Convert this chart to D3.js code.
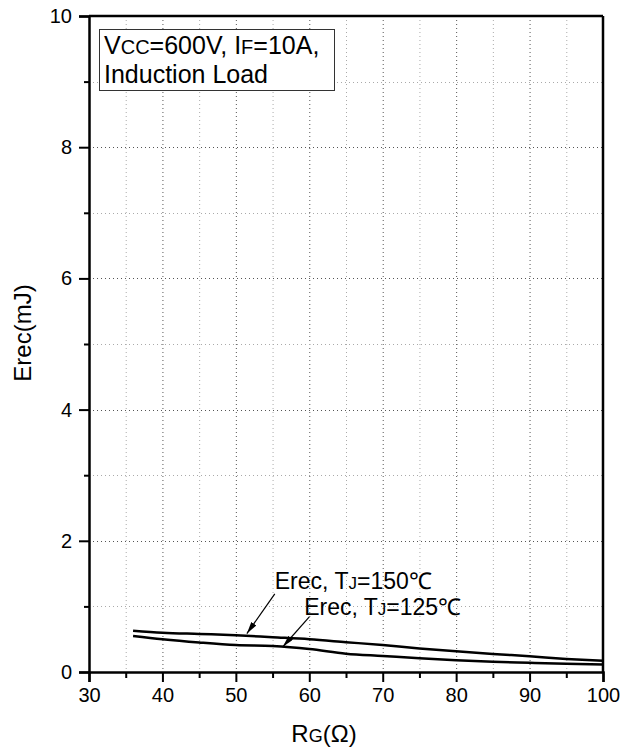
<!DOCTYPE html>
<html>
<head>
<meta charset="utf-8">
<script src="https://cdn.jsdelivr.net/npm/d3@7"></script>
<style>
  body { margin: 0; background: #fff; }
  text { font-family: "Liberation Sans", Arial, sans-serif; fill: #000; }
</style>
</head>
<body>
<script>
// Erec vs RG
const rg = [36, 40, 45, 50, 55, 60, 65, 70, 75, 80, 85, 90, 95, 100];
const erec150 = [0.63, 0.60, 0.58, 0.56, 0.53, 0.50, 0.455, 0.41, 0.36, 0.315, 0.275, 0.24, 0.20, 0.17];
const erec125 = [0.55, 0.50, 0.45, 0.41, 0.395, 0.35, 0.28, 0.245, 0.21, 0.18, 0.155, 0.14, 0.125, 0.115];

const xMajor = [30, 40, 50, 60, 70, 80, 90, 100];
const xMinor = [35, 45, 55, 65, 75, 85, 95];
const yMajor = [0, 2, 4, 6, 8, 10];
const yMinor = [1, 3, 5, 7, 9];

// annotation anchors in data units: label, arrow tail, arrow tip
const notes = [
  {T: "150", lx: 55.3, ly: 1.265, tx: 55.3, ty: 1.19, hx: 51.5, hy: 0.585},
  {T: "125", lx: 59.3, ly: 0.87, tx: 60.0, ty: 0.84, hx: 56.4, hy: 0.385}
];

const width = 632, height = 751;
const x = d3.scaleLinear().domain([30, 100]).range([89, 603]);
const y = d3.scaleLinear().domain([0, 10]).range([672, 16]);

const svg = d3.select("body").append("svg")
    .attr("width", width)
    .attr("height", height);

// grid
const grid = svg.append("g").attr("fill", "none").attr("stroke-width", 1);
grid.selectAll("line.gx")
  .data(xMajor.slice(1, -1).concat(xMinor))
  .join("line")
    .attr("x1", d => x(d) + 0.5).attr("x2", d => x(d) + 0.5)
    .attr("y1", y(10)).attr("y2", y(0))
    .attr("stroke", d => d % 10 === 0 ? "#555" : "#aaa")
    .attr("stroke-dasharray", "1,3");
grid.selectAll("line.gy")
  .data(yMajor.slice(1, -1).concat(yMinor))
  .join("line")
    .attr("y1", d => Math.round(y(d)) + 0.5).attr("y2", d => Math.round(y(d)) + 0.5)
    .attr("x1", x(30)).attr("x2", x(100))
    .attr("stroke", d => d % 2 === 0 ? "#555" : "#aaa")
    .attr("stroke-dasharray", "1,3");

// curves
const line = d3.line().x(d => x(d[0])).y(d => y(d[1])).curve(d3.curveMonotoneX);
[erec150, erec125].forEach(s => {
  svg.append("path")
    .datum(rg.map((r, i) => [r, s[i]]))
    .attr("fill", "none")
    .attr("stroke", "#000")
    .attr("stroke-width", 2.5)
    .attr("d", line);
});

// axes
const ax = svg.append("g").attr("transform", `translate(0,${y(0)})`);
ax.call(d3.axisBottom(x).tickValues(xMajor).tickSize(10).tickPadding(6).tickFormat(d3.format("d")));
ax.append("g").call(d3.axisBottom(x).tickValues(xMinor).tickSize(6).tickFormat(""))
  .select(".domain").remove();

const ay = svg.append("g").attr("transform", `translate(${x(30)},0)`);
ay.call(d3.axisLeft(y).tickValues(yMajor).tickSize(10).tickPadding(7).tickFormat(d3.format("d")));
ay.append("g").call(d3.axisLeft(y).tickValues(yMinor).tickSize(5).tickFormat(""))
  .select(".domain").remove();

svg.selectAll(".domain").attr("stroke-width", 2.5);
svg.selectAll(".tick line").attr("stroke-width", 2);
svg.selectAll(".tick text")
  .attr("font-size", 20)
  .attr("font-family", "Liberation Sans, Arial, sans-serif");

// top and right frame
svg.append("line").attr("x1", x(30)).attr("x2", x(100)).attr("y1", y(10)).attr("y2", y(10))
  .attr("stroke", "#000").attr("stroke-width", 2.5);
svg.append("line").attr("x1", x(100)).attr("x2", x(100)).attr("y1", y(10)).attr("y2", y(0))
  .attr("stroke", "#000").attr("stroke-width", 2.5);

// axis titles
const xt = svg.append("text")
  .attr("x", 324).attr("y", 742)
  .attr("text-anchor", "middle")
  .attr("font-size", 24);
xt.append("tspan").text("R");
xt.append("tspan").attr("font-size", 18).text("G");
xt.append("tspan").text("(Ω)");

svg.append("text")
  .attr("transform", "translate(31,333) rotate(-90)")
  .attr("text-anchor", "middle")
  .attr("font-size", 24)
  .text("Erec(mJ)");

// condition box
svg.append("rect")
  .attr("x", 99.5).attr("y", 29.5).attr("width", 235).attr("height", 61)
  .attr("fill", "#fff").attr("stroke", "#333").attr("stroke-width", 1);
const t1 = svg.append("text").attr("x", 104).attr("y", 54).attr("font-size", 25);
t1.append("tspan").text("V");
t1.append("tspan").attr("font-size", 20).text("CC");
t1.append("tspan").text("=600V, I");
t1.append("tspan").attr("font-size", 20).text("F");
t1.append("tspan").text("=10A,");
svg.append("text").attr("x", 104).attr("y", 83).attr("font-size", 25).text("Induction Load");

// annotations
svg.append("defs").append("marker")
  .attr("id", "ah")
  .attr("viewBox", "0 0 12 6")
  .attr("refX", 12).attr("refY", 3)
  .attr("markerWidth", 12).attr("markerHeight", 6)
  .attr("markerUnits", "userSpaceOnUse")
  .attr("orient", "auto")
  .append("path").attr("d", "M0,0 L12,3 L0,6 Z").attr("fill", "#000");

notes.forEach(n => {
  svg.append("line")
    .attr("x1", x(n.tx)).attr("y1", y(n.ty))
    .attr("x2", x(n.hx)).attr("y2", y(n.hy))
    .attr("stroke", "#000").attr("stroke-width", 1.2)
    .attr("marker-end", "url(#ah)");
  const t = svg.append("text").attr("x", x(n.lx)).attr("y", y(n.ly)).attr("font-size", 23);
  t.append("tspan").text("Erec, T");
  t.append("tspan").attr("font-size", 17).text("J");
  t.append("tspan").text("=" + n.T + "℃");
});
</script>
</body>
</html>
